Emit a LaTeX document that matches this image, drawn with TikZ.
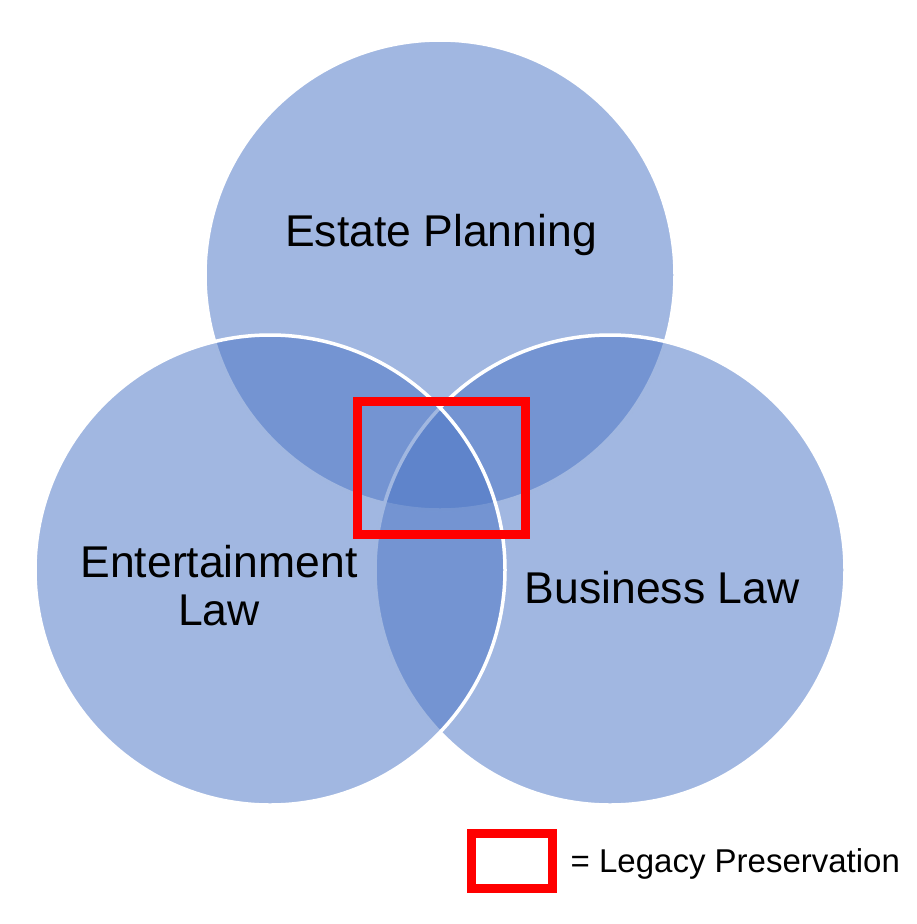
\documentclass[tikz,border=0pt]{standalone}
\usepackage{fontspec}
\setmainfont{Liberation Sans}
\definecolor{vennB}{RGB}{75,117,197}
\definecolor{legR}{RGB}{255,0,0}

\begin{document}
\begin{tikzpicture}[x=1pt,y=-1pt,
  venn/.style={fill=vennB,fill opacity=0.52,draw=white,line width=3.5pt},
  lbl/.style={font=\fontsize{44.5}{48}\selectfont,inner sep=0pt},
  redbox/.style={draw=legR,line width=9pt}]
\path[use as bounding box] (0,0) rectangle (917,924);
% the three areas, drawn top, right, left
\draw[venn] (440,275) circle (235);
\draw[venn] (610,570) circle (235);
\draw[venn] (270,570) circle (235);
\node[lbl,anchor=base] (estate) at (441,246) {Estate Planning};
\node[lbl,anchor=north,align=center] (entertain) at (219,545) {Entertainment\\Law};
\node[lbl,anchor=base] (business) at (662,603) {Business Law};
% overlap marker and legend
\draw[redbox] (357.5,401.5) rectangle (525.5,534.5);
\draw[redbox] (471.5,833.5) rectangle (552,888);
\node[font=\fontsize{33}{36}\selectfont,inner sep=0pt,anchor=base west] (legacy) at (570.5,872) {= Legacy Preservation};
\end{tikzpicture}
\end{document}
